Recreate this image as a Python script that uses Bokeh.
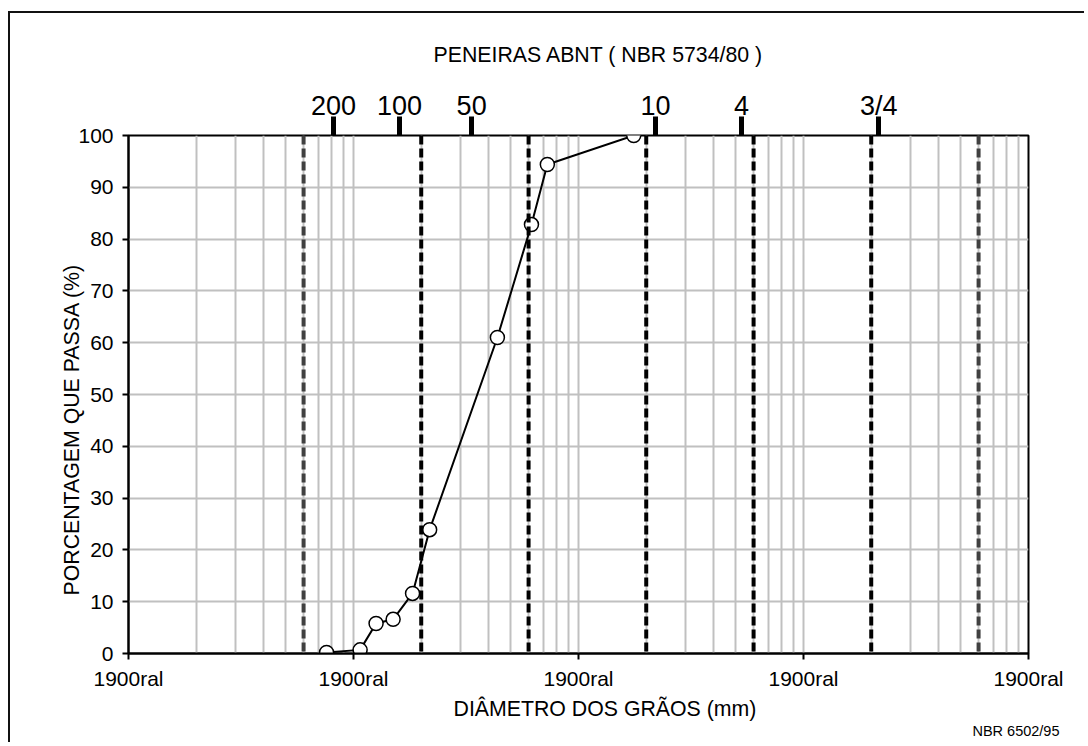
from bokeh.plotting import figure
from bokeh.models import LogAxis, FixedTicker, Span, Title, Range1d
from bokeh.embed import file_html
from bokeh.resources import INLINE

# ---- data ----
diam = [0.0759, 0.107, 0.126, 0.150, 0.183, 0.218, 0.436, 0.618, 0.727, 1.76]
passing = [0.2, 0.7, 5.8, 6.6, 11.6, 23.9, 61.0, 82.8, 94.4, 100.0]

sieve_labels = ["200", "100", "50", "10", "4", "3/4"]
sieve_pos = [0.0815, 0.160, 0.335, 2.2, 5.3, 21.6]

bounds = [0.06, 0.2, 0.6, 2.0, 6.0, 20.0, 60.0]
bound_colors = ["#404040", "#000000", "#000000", "#000000", "#000000", "#000000", "#404040"]

x_ticks = [0.01, 0.1, 1, 10, 100]
x_tick_labels = ["1900ral", "1900ral", "1900ral", "1900ral", "1900ral"]
y_ticks = [0, 10, 20, 30, 40, 50, 60, 70, 80, 90, 100]

grid_vals = [m * 10.0 ** e for e in range(-2, 2) for m in range(1, 10)] + [100.0]

FONT = "Liberation Sans"

p = figure(width=1076, height=731, x_axis_type="log",
           x_range=Range1d(0.01, 100), y_range=Range1d(0, 100),
           output_backend="svg", toolbar_location=None,
           min_border_left=118, min_border_right=58,
           min_border_top=122, min_border_bottom=91,
           styles={"border-left": "2px solid #111", "border-top": "2px solid #111",
                   "margin-top": "11px", "margin-left": "8px"})

p.background_fill_color = "white"
p.border_fill_color = "white"
p.outline_line_color = "black"
p.outline_line_width = 2

# grids
p.xgrid.ticker = FixedTicker(ticks=grid_vals)
p.xgrid.grid_line_color = "#c0c0c0"
p.xgrid.grid_line_width = 2
p.ygrid.ticker = FixedTicker(ticks=y_ticks)
p.ygrid.grid_line_color = "#c0c0c0"
p.ygrid.grid_line_width = 2

# bottom axis
xa = p.xaxis[0]
xa.ticker = FixedTicker(ticks=x_ticks)
xa.major_label_overrides = dict(zip(x_ticks, x_tick_labels))
xa.minor_tick_line_color = None
xa.major_tick_in = 0
xa.major_tick_out = 6
xa.major_tick_line_width = 2
xa.axis_line_width = 2
xa.major_label_standoff = 7
xa.major_label_text_font = FONT
xa.major_label_text_font_size = "21px"
xa.major_label_text_color = "black"

# left axis
ya = p.yaxis[0]
ya.ticker = FixedTicker(ticks=y_ticks)
ya.minor_tick_line_color = None
ya.major_tick_in = 0
ya.major_tick_out = 6
ya.major_tick_line_width = 2
ya.axis_line_width = 2
ya.major_label_standoff = 9
ya.major_label_text_font = FONT
ya.major_label_text_font_size = "21px"
ya.major_label_text_color = "black"

# top axis: ABNT sieves
top = LogAxis(ticker=FixedTicker(ticks=sieve_pos),
              major_label_overrides=dict(zip(sieve_pos, sieve_labels)))
top.axis_line_color = None
top.minor_tick_line_color = None
top.major_tick_in = 0
top.major_tick_out = 19
top.major_tick_line_width = 5
top.major_tick_line_color = "black"
top.major_label_standoff = -4
top.major_label_text_font = FONT
top.major_label_text_font_size = "27px"
top.major_label_text_color = "black"
p.add_layout(top, "above")

# titles
p.add_layout(Title(text="PENEIRAS ABNT ( NBR 5734/80 )", align="left", offset=305,
                   standoff=41, text_font=FONT, text_font_size="21.3px",
                   text_font_style="normal", text_color="black"), "above")
p.add_layout(Title(text="DIÂMETRO DOS GRÃOS (mm)", align="left", offset=325,
                   standoff=5, text_font=FONT, text_font_size="21.3px",
                   text_font_style="normal", text_color="black"), "below")
p.add_layout(Title(text="NBR 6502/95", align="right", offset=-31,
                   standoff=-5, text_font=FONT, text_font_size="14.5px",
                   text_font_style="normal", text_color="black"), "below")
p.add_layout(Title(text="PORCENTAGEM QUE PASSA (%)", align="left", offset=58,
                   standoff=-16, text_font=FONT, text_font_size="21.3px",
                   text_font_style="normal", text_color="black"), "left")

# classification boundaries
for b, c in zip(bounds, bound_colors):
    p.add_layout(Span(location=b, dimension="height", line_color=c,
                      line_width=4, line_dash="9 4"))

# data
p.line(diam, passing, line_color="black", line_width=2)
p.scatter(diam, passing, size=14, fill_color="white", line_color="black", line_width=1.5)

open("out.html", "w").write(file_html(p, INLINE))
